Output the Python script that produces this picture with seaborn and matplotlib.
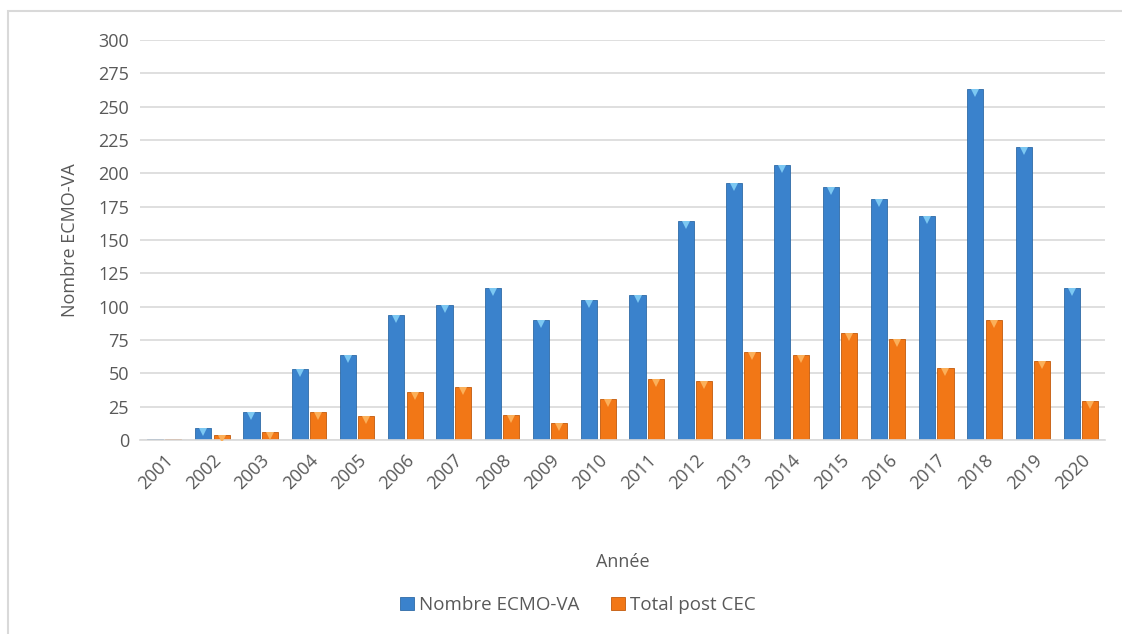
import pandas as pd
import matplotlib.pyplot as plt
import matplotlib.transforms as mtransforms
import seaborn as sns
from matplotlib.patches import Rectangle

years = [str(y) for y in range(2001, 2021)]
ecmo_va = [1, 9, 21, 53, 64, 94, 101, 114, 90, 105, 109, 164, 193, 206, 190, 181, 168, 263, 220, 114]
post_cec = [1, 4, 6, 21, 18, 36, 40, 19, 13, 31, 46, 44, 66, 64, 80, 76, 54, 90, 59, 29]
series = ['Nombre ECMO-VA', 'Total post CEC']

df = pd.DataFrame({
    'Année': years * 2,
    'Valeur': ecmo_va + post_cec,
    'Série': [series[0]] * len(years) + [series[1]] * len(years),
})

sns.set_style("white")
plt.rcParams['font.family'] = ['Open Sans', 'DejaVu Sans']
txt = '#595959'
blue, orange = '#3a82cc', '#f27716'

fig = plt.figure(figsize=(11.22, 6.34), dpi=100)
ax = fig.add_axes([0.1248, 0.306, 0.8602, 0.631])

sns.barplot(data=df, x='Année', y='Valeur', hue='Série', order=years,
            palette={series[0]: blue, series[1]: orange}, saturation=1,
            width=0.76, gap=0.12, linewidth=0, ax=ax)

# bevel look: darker sides and a light wedge just inside the top of each bar
wedge_tr = mtransforms.offset_copy(ax.transData, fig=fig, y=-3, units='points')
for bar in list(ax.patches):
    is_blue = bar.get_facecolor()[2] > 0.5
    bar.set_edgecolor('#2f6aa6' if is_blue else '#c25a0c')
    bar.set_linewidth(0.6)
    if bar.get_height() > 3:
        ax.plot(bar.get_x() + bar.get_width() / 2, bar.get_height(), marker='v',
                markersize=6, color='#7cc8f2' if is_blue else '#fbb05a',
                markeredgewidth=0, transform=wedge_tr, zorder=3)

ax.set_xlim(-0.5, len(years) - 0.5)
ax.set_ylim(0, 300)
ax.set_yticks(range(0, 301, 25))
ax.yaxis.grid(True, color='#d9d9d9', linewidth=1.2)
ax.set_axisbelow(True)
for s in ['top', 'right', 'left']:
    ax.spines[s].set_visible(False)
ax.spines['bottom'].set_color('#d9d9d9')
ax.spines['bottom'].set_linewidth(1.2)
ax.tick_params(axis='both', length=0, labelsize=13, colors=txt, pad=8)
plt.setp(ax.get_xticklabels(), rotation=45, ha='right', rotation_mode='anchor')

ax.set_xlabel('Année', fontsize=13, color=txt, labelpad=43)
ax.set_ylabel('Nombre ECMO-VA', fontsize=13, color=txt, labelpad=14)

handles, labels = ax.get_legend_handles_labels()
ax.legend(handles, labels, loc='center', bbox_to_anchor=(0.454, -0.413), ncol=2,
          frameon=False, fontsize=13.5, labelcolor=txt, handlelength=0.7,
          handleheight=0.7, handletextpad=0.3, columnspacing=1.7)

fig.patches.append(Rectangle((8 / 1122, -0.01), 1.0, 1 - 11 / 634 + 0.01,
                             transform=fig.transFigure, fill=False,
                             edgecolor='#d9d9d9', linewidth=1.5))

fig.savefig('out.png', dpi=100)
